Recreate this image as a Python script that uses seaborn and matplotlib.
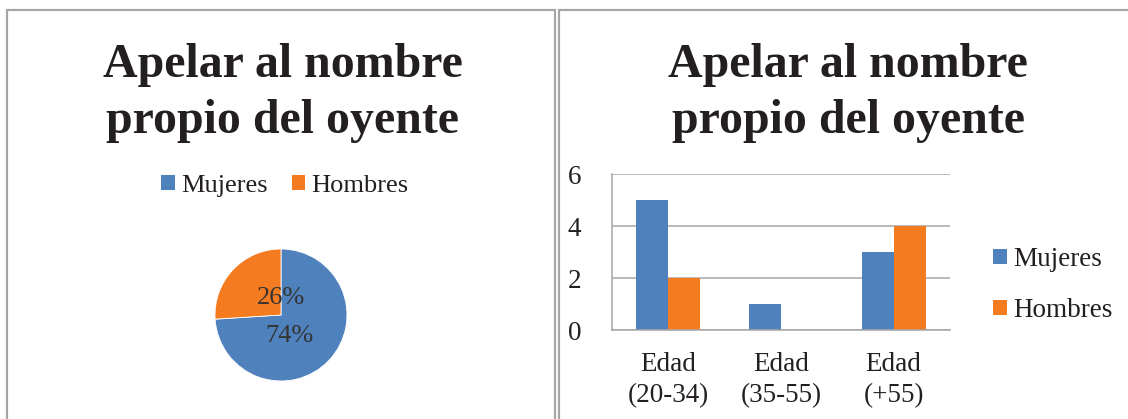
import matplotlib
matplotlib.use("Agg")
import matplotlib.pyplot as plt
from matplotlib.patches import Rectangle, Patch
import seaborn as sns
import pandas as pd

# ---- data ----
title = "Apelar al nombre\npropio del oyente"
series = ["Mujeres", "Hombres"]
pie_values = [74, 26]
age_groups = ["Edad\n(20-34)", "Edad\n(35-55)", "Edad\n(+55)"]
mujeres = [5, 1, 3]
hombres = [2, 0, 4]
y_ticks = [0, 2, 4, 6]

colors = ["#4F81BD", "#F47B20"]
text_color = "#231F20"
line_color = "#A6A6A6"

sns.set_theme(style="white")
plt.rcParams["font.family"] = ["Liberation Serif", "DejaVu Serif"]

W, H = 1128, 419
fig = plt.figure(figsize=(W / 100, H / 100), dpi=100)
fig.patch.set_facecolor("white")


def fx(px):
    return px / W


def fy(py):
    return 1 - py / H


# panel frames
for x0, x1 in [(6.5, 554.5), (558.5, 1140)]:
    fig.patches.append(Rectangle((fx(x0), fy(440)), fx(x1 - x0), (440 - 10.5) / H,
                                 transform=fig.transFigure, fill=False,
                                 edgecolor=line_color, lw=1.6, clip_on=False))

# titles
for cx in (283, 848):
    fig.text(fx(cx), fy(93), title, ha="center", va="center", fontsize=34.5,
             fontweight="bold", color=text_color, linespacing=1.35)

# ---- pie ----
r = 66
cx, cy = 281, 315
ax_pie = fig.add_axes([fx(cx - r), fy(cy + r), fx(2 * r), 2 * r / H])
wedges, texts, autotexts = ax_pie.pie(
    pie_values, colors=colors, startangle=90, counterclock=False,
    autopct=lambda p: f"{p:.0f}%", radius=1,
    wedgeprops=dict(edgecolor="white", linewidth=0.6),
    textprops=dict(fontsize=19, color="#333333"))
autotexts[0].set_position((0.12, -0.32))
autotexts[1].set_position((0.0, 0.26))
ax_pie.set_xlim(-1, 1)
ax_pie.set_ylim(-1, 1)
ax_pie.set_aspect("equal")
ax_pie.axis("off")

handles = [Patch(facecolor=c, edgecolor="none", label=s) for c, s in zip(colors, series)]
fig.legend(handles=handles, loc="center", bbox_to_anchor=(fx(285), fy(186)), ncol=2,
           frameon=False, fontsize=19, handlelength=0.5, handleheight=0.5,
           handletextpad=0.25, columnspacing=0.9, labelcolor=text_color)

# ---- bars ----
df = pd.DataFrame({
    "grupo": age_groups * 2,
    "valor": mujeres + hombres,
    "sexo": [series[0]] * len(mujeres) + [series[1]] * len(hombres),
})
ax = fig.add_axes([fx(612), fy(330), fx(950 - 612), (330 - 174) / H])
sns.barplot(data=df, x="grupo", y="valor", hue="sexo", palette=colors,
            width=0.566, gap=0, saturation=1, ax=ax, legend=True)
ax.set_ylim(0, 6)
ax.set_xlim(-0.5, 2.5)
ax.set_yticks(y_ticks)
ax.set_xlabel("")
ax.set_ylabel("")
ax.yaxis.grid(True, color=line_color, lw=1.1)
ax.set_axisbelow(True)
for s in ["top", "right"]:
    ax.spines[s].set_visible(False)
for s in ["left", "bottom"]:
    ax.spines[s].set_color(line_color)
    ax.spines[s].set_linewidth(1.1)
ax.tick_params(axis="y", length=0, pad=22, labelsize=19.5, labelcolor=text_color)
ax.tick_params(axis="x", length=0, pad=16, labelsize=19.5, labelcolor=text_color)
for lbl in ax.get_xticklabels():
    lbl.set_linespacing(1.3)
for p in ax.patches:
    p.set_edgecolor("none")

h, l = ax.get_legend_handles_labels()
ax.legend(h, l, loc="center left", bbox_to_anchor=(fx(969), fy(285)),
          bbox_transform=fig.transFigure, frameon=False, fontsize=19.5,
          handlelength=0.5, handleheight=0.5, handletextpad=0.25,
          labelspacing=0.95, labelcolor=text_color)

fig.savefig("out.png", dpi=100, facecolor="white")
